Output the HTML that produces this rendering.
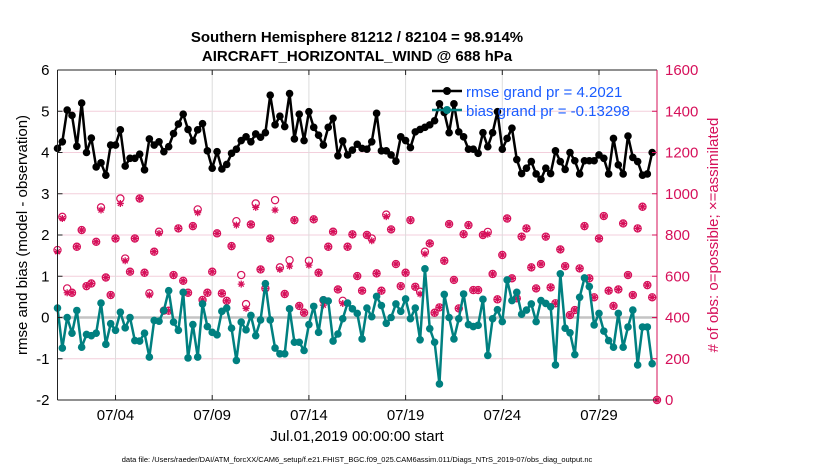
<!DOCTYPE html>
<html><head><meta charset="utf-8"><style>
body{margin:0;background:#fff;}
svg{display:block;font-family:"Liberation Sans",Arial,sans-serif;}
</style></head><body>
<svg id="chart" width="830" height="470" viewBox="0 0 830 470" xmlns="http://www.w3.org/2000/svg">
<rect width="830" height="470" fill="#fff"/>
<text x="357" y="42" text-anchor="middle" font-size="15" font-weight="bold">Southern Hemisphere 81212 / 82104 = 98.914%</text>
<text x="357" y="61" text-anchor="middle" font-size="15" font-weight="bold">AIRCRAFT_HORIZONTAL_WIND @ 688 hPa</text>
<g id="grid"></g>
<g id="marks"></g>
<g id="axes"></g>
<text transform="translate(27,235) rotate(-90)" text-anchor="middle" font-size="15">rmse and bias (model - observation)</text>
<text transform="translate(718,235) rotate(-90)" text-anchor="middle" font-size="15" fill="#d6105a"># of obs: o=possible; ×=assimilated</text>
<text x="357" y="441" text-anchor="middle" font-size="15">Jul.01,2019 00:00:00 start</text>
<text x="357" y="462" text-anchor="middle" font-size="7.5">data file: /Users/raeder/DAI/ATM_forcXX/CAM6_setup/f.e21.FHIST_BGC.f09_025.CAM6assim.011/Diags_NTrS_2019-07/obs_diag_output.nc</text>
<g id="legend">
<line x1="432" y1="91" x2="462" y2="91" stroke="#000" stroke-width="2.5"/>
<circle cx="447" cy="91" r="4" fill="#000"/>
<text x="466" y="97" font-size="15" fill="#1a5cff">rmse grand pr = 4.2021</text>
<line x1="432" y1="110" x2="462" y2="110" stroke="#008080" stroke-width="2.5"/>
<circle cx="447" cy="110" r="4" fill="#008080"/>
<text x="466" y="116" font-size="15" fill="#1a5cff">bias grand pr = -0.13298</text>
</g>
</svg>
<script>
const rmse=[4.1,4.26,5.03,4.9,4.15,5.2,4.0,4.35,3.65,3.75,3.45,4.18,4.18,4.55,3.67,3.86,3.86,3.96,3.58,4.33,4.18,4.26,4.02,4.14,4.46,4.69,4.93,4.56,4.28,4.55,4.7,
4.04,3.62,4.02,3.6,3.71,3.98,4.08,4.29,4.38,4.26,4.45,4.37,4.48,5.39,4.67,4.88,4.63,5.43,4.33,4.93,4.29,4.99,4.61,4.42,4.18,4.61,4.83,3.92,4.28,3.94,4.06,
4.2,4.1,4.08,4.26,4.95,4.04,4.04,3.94,3.79,4.38,4.29,4.12,4.5,4.56,4.61,4.67,4.77,5.18,4.97,4.48,5.18,4.5,4.38,4.08,4.08,3.98,4.48,4.14,4.48,4.99,4.08,
4.34,4.59,3.83,3.49,3.62,3.78,3.48,3.35,3.62,3.49,4.04,3.78,3.59,4.0,3.8,3.48,3.8,3.8,3.8,3.94,3.86,3.48,4.34,3.7,3.48,4.4,3.88,3.78,3.45,3.48,4.0];
const bias=[0.23,-0.74,0,-0.38,0.17,-0.72,-0.41,-0.44,-0.38,0.35,-0.65,-0.15,-0.31,0.13,-0.25,0,-0.56,-0.57,-0.38,-0.96,-0.07,-0.09,0.17,0.65,-0.11,-0.31,0.61,-0.98,-0.17,-0.96,0.33,
-0.22,-0.36,-0.42,0.15,0.23,-0.26,-1.04,-0.11,-0.3,0.05,-0.44,-0.06,0.82,-0.06,-0.74,-0.88,-0.88,0.21,-0.6,-0.6,-0.8,-0.17,0.27,-0.36,0.43,0.4,-0.57,-0.4,-0.03,0.35,0.21,
0.1,-0.52,0.23,0.02,0.51,0.29,-0.14,0,0.33,0.15,0.45,-0.03,0.23,-0.54,1.18,-0.27,-0.6,-1.61,0.56,0,-0.52,-0.03,0.57,-0.17,-0.22,-0.19,0.44,-0.92,-0.03,0.19,-0.1,
0.91,0.41,0.61,0.08,0.18,0.33,-0.1,0.41,0.34,0.26,-1.15,1.06,-0.26,-0.37,-0.9,0.49,0.96,0.75,-0.18,0.1,-0.33,-0.56,-0.72,0.1,-0.72,-0.23,0.18,-1.15,-0.23,-0.23,-1.12];
const obsAssim=[719,880,520,520,743,824,552,565,767,921,594,509,783,953,675,622,783,977,617,509,719,808,433,433,606,832,578,520,843,908,485,
520,622,808,517,481,746,848,562,444,851,934,633,541,783,921,633,514,649,872,456,423,654,876,617,460,743,816,536,468,743,803,
601,530,800,772,614,530,889,827,659,552,617,872,549,514,708,759,423,449,675,853,582,444,804,848,533,533,800,804,611,488,703,
880,590,493,792,832,643,541,659,792,546,469,730,649,412,436,638,843,590,498,783,892,530,456,536,856,606,509,832,937,557,498,0];
const obsPoss=[727,888,541,520,743,824,552,565,767,934,594,509,783,977,686,622,783,977,617,517,719,816,433,433,606,832,578,520,843,924,485,
520,622,808,517,481,746,867,606,465,851,953,633,541,783,969,643,514,678,872,456,423,675,876,617,484,743,816,536,481,743,803,
601,530,800,783,614,530,899,827,659,552,617,872,549,525,719,759,423,449,675,853,582,444,804,848,533,533,800,815,611,488,703,
880,590,493,792,832,643,541,659,792,546,469,730,649,412,436,638,843,590,498,783,892,530,456,536,856,606,509,832,937,557,498,0];
const leftTicks=[6,5,4,3,2,1,0,-1,-2];
const rightTicks=[1600,1400,1200,1000,800,600,400,200,0];
const dayTicks=[3,8,13,18,23,28];
const dayLabels=["07/04","07/09","07/14","07/19","07/24","07/29"];
const obsPerDay=4;

const NS="http://www.w3.org/2000/svg";
const L=57.5,R=657,T=70,B=400;
const X=d=>L+(d/31)*(R-L);
const Y=v=>B-(v+2)/8*(B-T);
const YR=n=>B-n/1600*(B-T);
function mk(tag,attrs,parent){const e=document.createElementNS(NS,tag);for(const k in attrs)e.setAttribute(k,attrs[k]);parent.appendChild(e);return e;}
const grid=document.getElementById('grid'),marks=document.getElementById('marks'),axes=document.getElementById('axes');

leftTicks.forEach(v=>{
  if(v!==6&&v!==-2&&v!==0){const g=mk('line',{x1:L,x2:R,y1:Y(v),y2:Y(v),stroke:'#f3cfdc','stroke-width':1},grid);
  
  }
  const t=mk('text',{x:L-8,y:Y(v)+5,'text-anchor':'end','font-size':15},axes);t.textContent=v;
  
  
  mk('line',{x1:L,x2:L+5,y1:Y(v),y2:Y(v),stroke:'#222'},axes);
});
rightTicks.forEach(n=>{
  const t=mk('text',{x:R+8,y:YR(n)+5,'font-size':15,fill:'#d6105a'},axes);t.textContent=n;
  
  
  mk('line',{x1:R-5,x2:R,y1:YR(n),y2:YR(n),stroke:'#d6105a'},axes);
});
dayTicks.forEach((d,i)=>{
  const g=mk('line',{x1:X(d),x2:X(d),y1:T,y2:B,stroke:'#dcdcdc','stroke-width':1},grid);
  
  
  mk('line',{x1:X(d),x2:X(d),y1:B-5,y2:B,stroke:'#222'},axes);
  mk('line',{x1:X(d),x2:X(d),y1:T,y2:T+5,stroke:'#222'},axes);
  const t=mk('text',{x:X(d),y:B+20,'text-anchor':'middle','font-size':15},axes);t.textContent=dayLabels[i];
  
  
});
const zl=mk('line',{x1:L,x2:R,y1:Y(0),y2:Y(0),stroke:'#c4c4c4','stroke-width':2.5},grid);



// obs
obsAssim.forEach((n,i)=>{
  const x=X(i/obsPerDay),c='#d6105a';
  const p=mk('circle',{cx:x,cy:YR(obsPoss[i]),r:3.6,fill:'none',stroke:c,'stroke-width':1.2},marks);
  
  
  const y=YR(n);
  const s=mk('path',{d:`M${x-3.5},${y}H${x+3.5}M${x},${y-3.5}V${y+3.5}M${x-2.5},${y-2.5}L${x+2.5},${y+2.5}M${x-2.5},${y+2.5}L${x+2.5},${y-2.5}`,stroke:c,'stroke-width':1.3},marks);
  
  
});
function series(vals,color,name){
  const pts=vals.map((v,i)=>X(i/obsPerDay).toFixed(2)+','+Y(v).toFixed(2)).join(' ');
  const pl=mk('polyline',{points:pts,fill:'none',stroke:color,'stroke-width':2.5,'stroke-linejoin':'round'},marks);
  
  
  vals.forEach((v,i)=>{
    const c=mk('circle',{cx:X(i/obsPerDay),cy:Y(v),r:3.8,fill:color},marks);
    
    
  });
}
series(bias,'#008080','bias');
series(rmse,'#000','rmse');

// box
mk('line',{x1:L,x2:R,y1:T,y2:T,stroke:'#222'},axes);
mk('line',{x1:L,x2:R,y1:B,y2:B,stroke:'#222'},axes);
mk('line',{x1:L,x2:L,y1:T,y2:B,stroke:'#222'},axes);
mk('line',{x1:R,x2:R,y1:T,y2:B,stroke:'#d6105a'},axes);
</script>
</body></html>
